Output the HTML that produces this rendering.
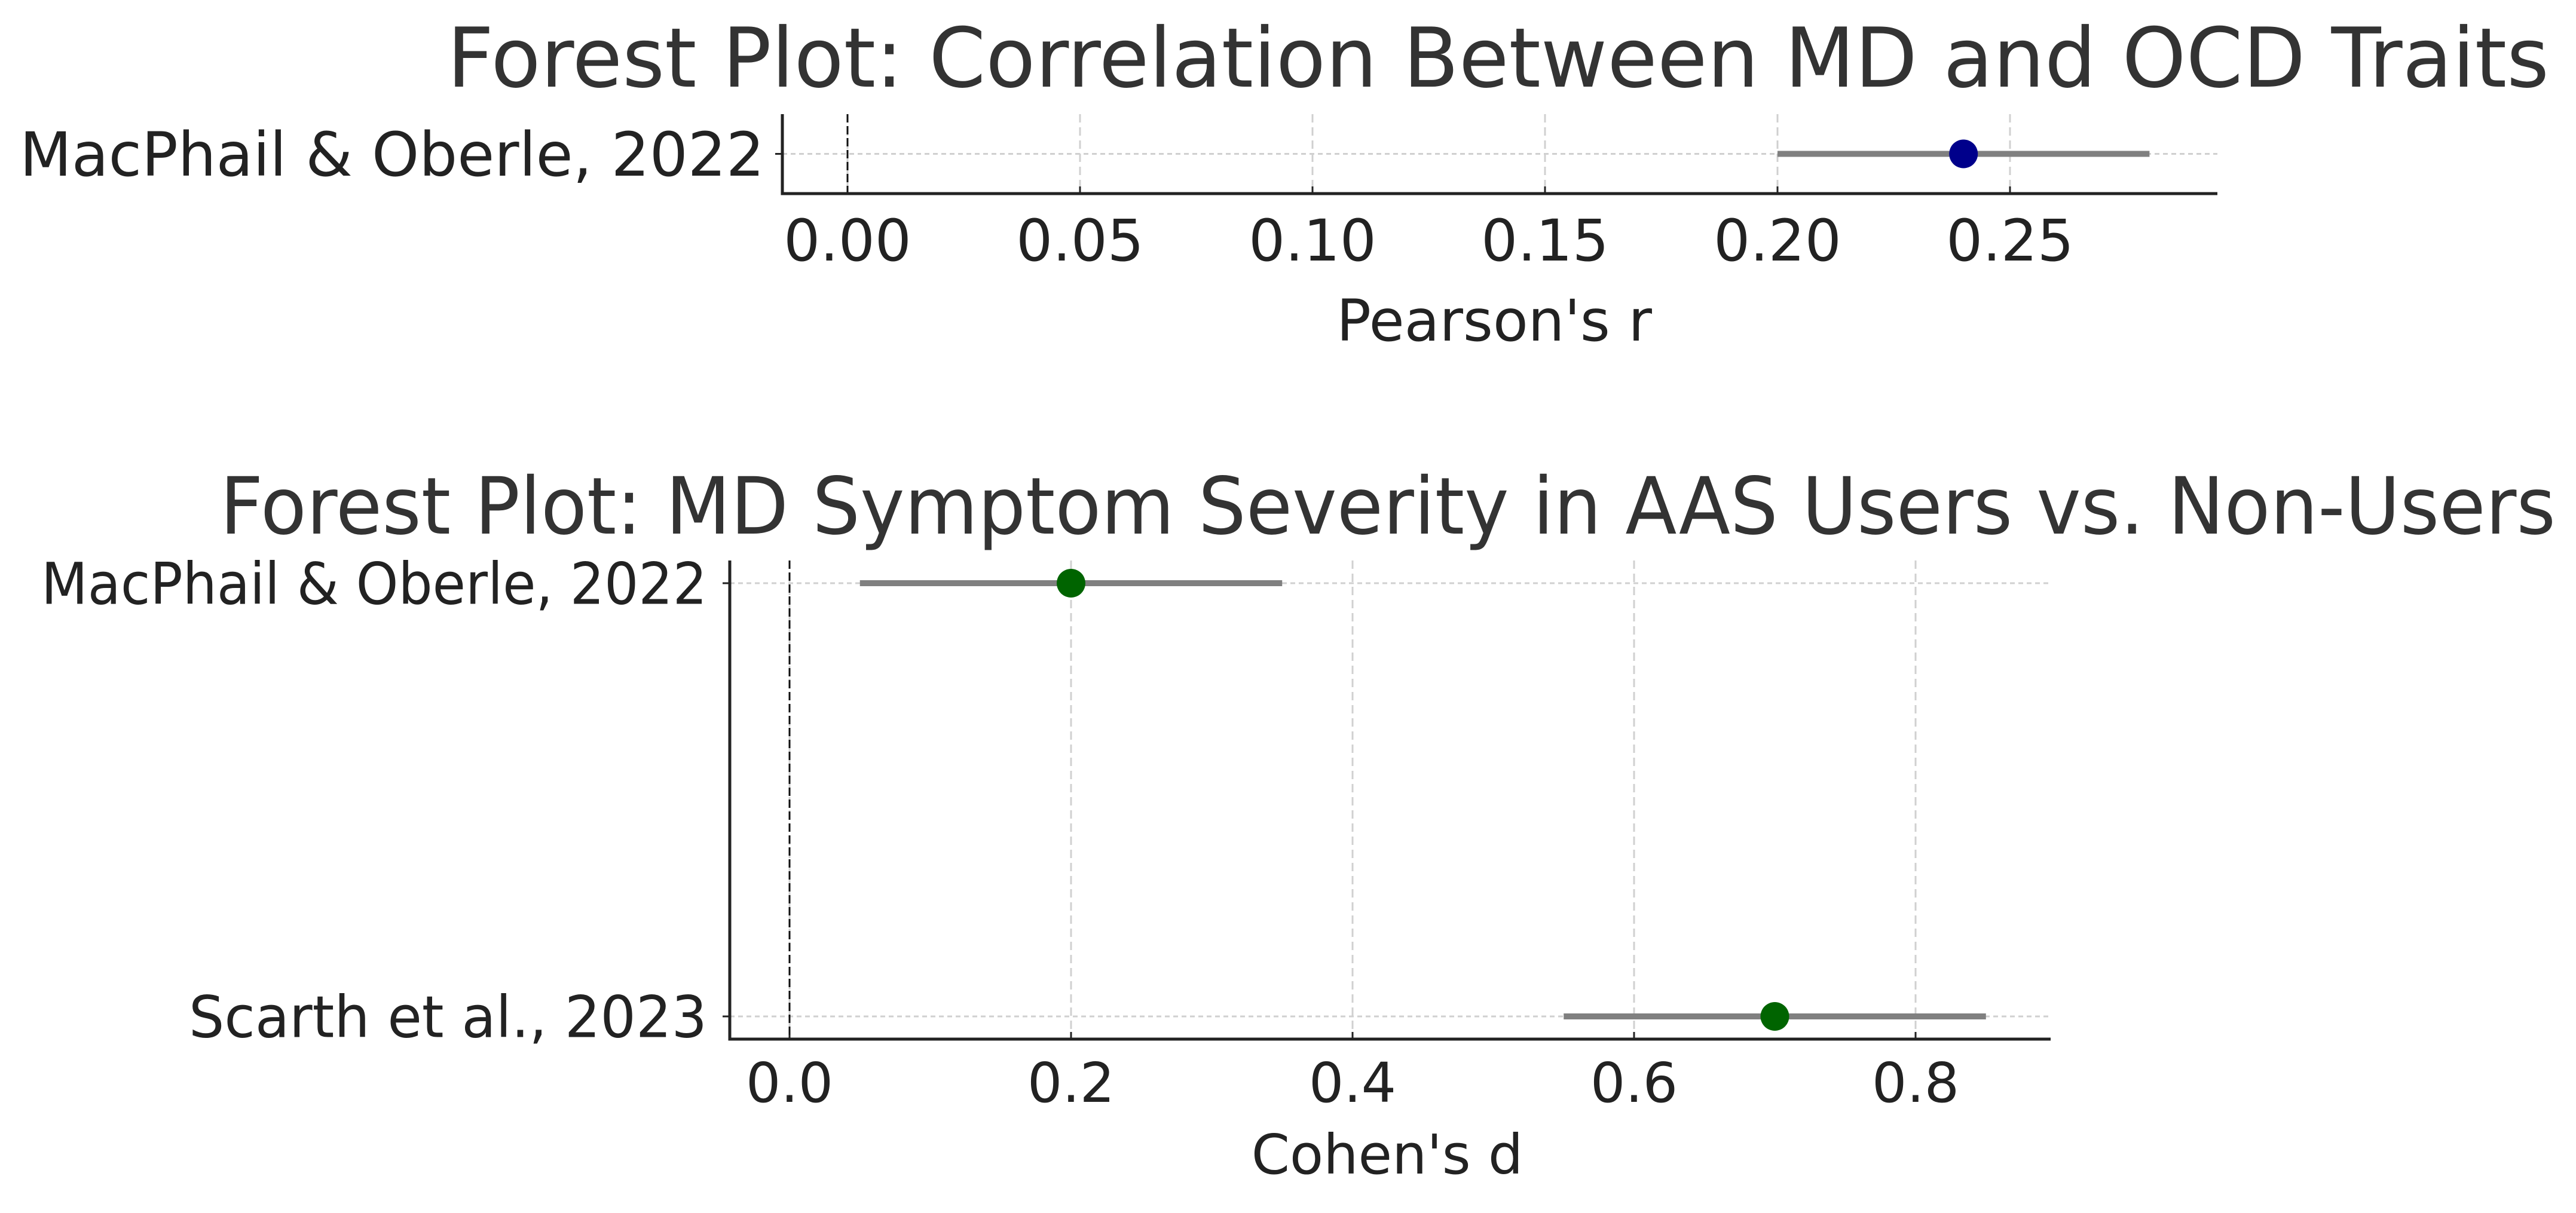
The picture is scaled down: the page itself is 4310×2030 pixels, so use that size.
<!DOCTYPE html>
<html><head><meta charset="utf-8"><style>
html,body{margin:0;padding:0;background:#fff;}
svg{display:block;font-family:"DejaVu Sans","Liberation Sans",sans-serif;}
</style></head><body>
<svg id="chart" width="4310" height="2030" viewBox="0 0 4310 2030" xmlns="http://www.w3.org/2000/svg">
<rect width="4310" height="2030" fill="#fff"/>
<text x="748" y="145" textLength="3517" lengthAdjust="spacingAndGlyphs" font-size="138" fill="#333">Forest Plot: Correlation Between MD and OCD Traits</text>
<text x="368" y="893" textLength="3908" lengthAdjust="spacingAndGlyphs" font-size="132" fill="#333">Forest Plot: MD Symptom Severity in AAS Users vs. Non-Users</text>
<g id="top"></g>
<g id="bot"></g>
</svg>
<script>
const topStudies = ["MacPhail & Oberle, 2022"];
const topEffect = [0.24];
const topLow = [0.20];
const topHigh = [0.28];
const topTicks = [0, 0.05, 0.10, 0.15, 0.20, 0.25];
const topTickLabels = ["0.00","0.05","0.10","0.15","0.20","0.25"];

const botStudies = ["Scarth et al., 2023", "MacPhail & Oberle, 2022"];
const botEffect = [0.7, 0.2];
const botLow = [0.55, 0.05];
const botHigh = [0.85, 0.35];
const botTicks = [0, 0.2, 0.4, 0.6, 0.8];
const botTickLabels = ["0.0","0.2","0.4","0.6","0.8"];

const NS = "http://www.w3.org/2000/svg";
function mk(parent, tag, attrs){const e=document.createElementNS(NS,tag);for(const k in attrs)e.setAttribute(k,attrs[k]);parent.appendChild(e);return e;}

function drawPanel(g, cfg){
  const xs = v => cfg.x0 + (v - 0) * cfg.pxPerUnit;
  const n = cfg.studies.length;
  const ys = i => n === 1 ? (cfg.top + cfg.bottom)/2 : cfg.bottom - cfg.pad - i * ((cfg.bottom - cfg.top - 2*cfg.pad)/(n-1));
  cfg.ticks.forEach((t,i)=>{
    const l = mk(g,'line',{x1:xs(t),x2:xs(t),y1:cfg.top,y2:cfg.bottom,stroke:'#d0d0d0','stroke-width':3,'stroke-dasharray':'14 8'});
    
    
    const tk = mk(g,'line',{x1:xs(t),x2:xs(t),y1:cfg.bottom,y2:cfg.bottom-12,stroke:'#222','stroke-width':3});
    
    
    const tl = mk(g,'text',{x:xs(t),y:cfg.bottom+cfg.tickDy,'text-anchor':'middle','font-size':cfg.fs,fill:'#222'});
    tl.textContent = cfg.tickLabels[i];
    
    
  });
  cfg.studies.forEach((s,i)=>{
    const y = ys(i);
    const gl = mk(g,'line',{x1:cfg.left,x2:cfg.right,y1:y,y2:y,stroke:'#d0d0d0','stroke-width':3,'stroke-dasharray':'8 6'});
    
    
    const yt = mk(g,'line',{x1:cfg.left-12,x2:cfg.left,y1:y,y2:y,stroke:'#222','stroke-width':3});
    
    
    const lab = mk(g,'text',{x:cfg.labelRight,y:y+cfg.lfs*0.36,'text-anchor':'end','font-size':cfg.lfs,fill:'#222',textLength:cfg.labelW[i],lengthAdjust:'spacingAndGlyphs'});
    lab.textContent = s;
    
    
  });
  const z = mk(g,'line',{x1:xs(0),x2:xs(0),y1:cfg.top,y2:cfg.bottom,stroke:'#111','stroke-width':3,'stroke-dasharray':'14 6'});
  
  
  cfg.studies.forEach((s,i)=>{
    const y = ys(i);
    const ci = mk(g,'line',{x1:xs(cfg.low[i]),x2:xs(cfg.high[i]),y1:y,y2:y,stroke:'#808080','stroke-width':10});
    
    
    const pt = mk(g,'circle',{cx:xs(cfg.effect[i]),cy:y,r:24,fill:cfg.color});
    
    
  });
  const sp = mk(g,'path',{d:`M${cfg.left} ${cfg.top} V${cfg.bottom} H${cfg.right}`,fill:'none',stroke:'#222','stroke-width':5});
  
  
  const xl = mk(g,'text',{x:cfg.xlabelX,y:cfg.xlabelY,'text-anchor':'middle','font-size':cfg.fs,fill:'#222'});
  xl.textContent = cfg.xlabel;
  
  
}

drawPanel(document.getElementById('top'),{
  studies:topStudies,effect:topEffect,low:topLow,high:topHigh,ticks:topTicks,tickLabels:topTickLabels,
  x0:1418,pxPerUnit:7780,left:1309,right:3710,top:191,bottom:324,pad:0,
  fs:96,lfs:102,labelRight:1279,labelW:[1246],tickDy:112,color:'#00008b',xlabel:"Pearson's r",xlabelX:2500,xlabelY:570
});
drawPanel(document.getElementById('bot'),{
  studies:botStudies,effect:botEffect,low:botLow,high:botHigh,ticks:botTicks,tickLabels:botTickLabels,
  x0:1321,pxPerUnit:2355,left:1221,right:3431,top:938,bottom:1739,pad:38,
  fs:92,lfs:96,labelRight:1183,labelW:[867,1114],tickDy:105,color:'#006400',xlabel:"Cohen's d",xlabelX:2321,xlabelY:1964
});
</script>
</body></html>
